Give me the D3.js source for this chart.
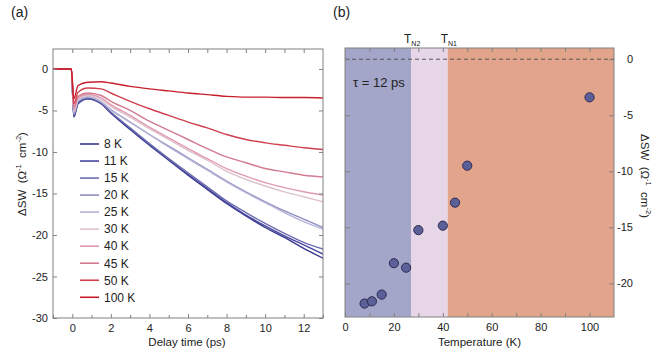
<!DOCTYPE html>
<html>
<head>
<meta charset="utf-8">
<script src="https://cdn.jsdelivr.net/npm/d3@7/dist/d3.min.js"></script>
<style>
  body { margin: 0; background: #fff; }
  svg { display: block; }
  text { font-family: "Liberation Sans", Arial, Helvetica, sans-serif; fill: #222; }
  .ylab { white-space: pre; }
</style>
</head>
<body>
<svg id="chart" width="661" height="352"></svg>
<script>
// ---------- DATA ----------
// Panel (a): delay times (ps) and ΔSW traces per temperature
const delayTimes = [-1, -0.05, 0.08, 0.3, 0.8, 1.5, 2, 3, 4, 5, 6, 7, 8, 9, 10, 11, 12, 13];
const seriesLabels = ["8 K", "11 K", "15 K", "20 K", "25 K", "30 K", "40 K", "45 K", "50 K", "100 K"];
const seriesColors = ["#38388c", "#4747a0", "#6c6cb0", "#8e8ec2", "#b5b3d5", "#dcc2cf", "#e09bae", "#d27a8f", "#d0404f", "#c81f2c"];
const trace8K   = [0, 0, -5.8, -4.2, -3.6, -4.2, -5.3, -7.3, -9.2, -11.0, -12.8, -14.5, -16.2, -17.7, -19.1, -20.3, -21.6, -22.8];
const trace11K  = [0, 0, -5.7, -4.1, -3.6, -4.2, -5.3, -7.2, -9.1, -10.9, -12.7, -14.4, -16.1, -17.6, -18.9, -20.1, -21.2, -22.3];
const trace15K  = [0, 0, -5.6, -4.0, -3.5, -4.1, -5.2, -7.1, -9.0, -10.8, -12.5, -14.2, -15.9, -17.3, -18.6, -19.8, -20.9, -21.7];
const trace20K  = [0, 0, -5.4, -3.9, -3.4, -4.0, -4.9, -6.4, -7.9, -9.3, -10.7, -12.1, -13.5, -14.8, -16.0, -17.1, -18.1, -19.1];
const trace25K  = [0, 0, -5.3, -3.8, -3.35, -3.95, -4.9, -6.4, -7.9, -9.4, -10.8, -12.2, -13.6, -14.9, -16.1, -17.3, -18.4, -19.3];
const trace30K  = [0, 0, -5.1, -3.7, -3.2, -3.7, -4.5, -5.8, -7.2, -8.5, -9.8, -11.0, -12.3, -13.3, -14.1, -14.8, -15.4, -16.0];
const trace40K  = [0, 0, -4.9, -3.5, -3.05, -3.5, -4.3, -5.6, -7.0, -8.3, -9.6, -10.8, -12.0, -12.9, -13.7, -14.3, -14.8, -15.2];
const trace45K  = [0, 0, -4.6, -3.3, -2.9, -3.2, -3.9, -5.0, -6.3, -7.4, -8.5, -9.6, -10.6, -11.3, -12.0, -12.4, -12.8, -13.0];
const trace50K  = [0, 0, -4.2, -2.8, -2.3, -2.4, -2.9, -3.9, -4.8, -5.6, -6.4, -7.1, -7.9, -8.5, -8.9, -9.2, -9.5, -9.7];
const trace100K = [0, 0, -3.6, -2.0, -1.6, -1.55, -1.7, -2.1, -2.4, -2.65, -2.9, -3.1, -3.3, -3.4, -3.4, -3.45, -3.45, -3.5];
const traces = [trace8K, trace11K, trace15K, trace20K, trace25K, trace30K, trace40K, trace45K, trace50K, trace100K];
const aYTicks = [-30, -25, -20, -15, -10, -5, 0];
const aXTicks = [0, 2, 4, 6, 8, 10, 12];

// Panel (b): ΔSW at τ = 12 ps vs temperature
const temperatures = [8, 11, 15, 20, 25, 30, 40, 45, 50, 100];
const dswAt12ps   = [-21.8, -21.6, -21.0, -18.2, -18.6, -15.25, -14.85, -12.8, -9.5, -3.4];
const TN2 = 27, TN1 = 42;
const bXTicks = [0, 20, 40, 60, 80, 100];
const bYTicks = [-20, -15, -10, -5, 0];

// ---------- DRAW ----------
const svg = d3.select("#chart");
const fmt = d => String(d);
const frameColor = "#808080";

function styleAxis(g) {
  g.select(".domain").remove();
  g.selectAll(".tick line").attr("stroke", frameColor);
  g.selectAll(".tick text").attr("font-size", 11).attr("fill", "#222");
}

function unitLabel(sel) {
  sel.append("tspan").text("ΔSW  (Ω");
  sel.append("tspan").attr("dy", -5).attr("font-size", 7.5).text("-1");
  sel.append("tspan").attr("dy", 5).text("  cm");
  sel.append("tspan").attr("dy", -5).attr("font-size", 7.5).text("-2");
  sel.append("tspan").attr("dy", 5).text(")");
}

// ===== Panel (a) =====
const ax = d3.scaleLinear().domain([-1, 13]).range([53, 323]);
const ay = d3.scaleLinear().domain([-30, 2.4]).range([318, 49]);

const ga = svg.append("g");
svg.append("clipPath").attr("id", "clipA").append("rect")
  .attr("x", ax.range()[0]).attr("y", ay.range()[1])
  .attr("width", ax.range()[1] - ax.range()[0]).attr("height", ay.range()[0] - ay.range()[1]);

const line = d3.line().x((d, i) => ax(delayTimes[i])).y(d => ay(d)).curve(d3.curveMonotoneX);
const traceG = ga.append("g").attr("clip-path", "url(#clipA)");
traces.forEach((tr, k) => {
  traceG.append("path").datum(tr).attr("d", line)
    .attr("fill", "none").attr("stroke", seriesColors[k]).attr("stroke-width", 1.4);
});
// axes
ga.append("g").attr("transform", `translate(${ax.range()[0]},0)`)
  .call(d3.axisLeft(ay).tickValues(aYTicks).tickFormat(fmt).tickSizeInner(-4).tickSizeOuter(0).tickPadding(5))
  .call(styleAxis);
ga.append("g").attr("transform", `translate(${ax.range()[1]},0)`)
  .call(d3.axisRight(ay).tickValues(aYTicks).tickFormat("").tickSizeInner(-4).tickSizeOuter(0))
  .call(styleAxis);
ga.append("g").attr("transform", `translate(0,${ay.range()[0]})`)
  .call(d3.axisBottom(ax).tickValues(aXTicks).tickFormat(fmt).tickSizeInner(-4).tickSizeOuter(0).tickPadding(6))
  .call(styleAxis);
ga.append("g").attr("transform", `translate(0,${ay.range()[0]})`)
  .call(d3.axisBottom(ax).tickValues(d3.range(-1, 14, 2)).tickFormat("").tickSizeInner(-3).tickSizeOuter(0))
  .call(styleAxis);
ga.append("g").attr("transform", `translate(0,${ay.range()[1]})`)
  .call(d3.axisTop(ax).tickValues(d3.range(0, 13, 1)).tickFormat("").tickSizeInner(-4).tickSizeOuter(0))
  .call(styleAxis);
ga.append("rect").attr("x", ax.range()[0]).attr("y", ay.range()[1])
  .attr("width", ax.range()[1] - ax.range()[0]).attr("height", ay.range()[0] - ay.range()[1])
  .attr("fill", "none").attr("stroke", frameColor).attr("stroke-width", 1);

// legend
const leg = ga.append("g");
seriesLabels.forEach((lab, k) => {
  const yy = 144 + k * 17.03;
  leg.append("line").attr("x1", 80).attr("x2", 99).attr("y1", yy).attr("y2", yy)
    .attr("stroke", seriesColors[k]).attr("stroke-width", 1.6);
  leg.append("text").attr("x", 104).attr("y", yy + 4.3).attr("font-size", 12).text(lab);
});

// titles
ga.append("text").attr("x", 187).attr("y", 346).attr("text-anchor", "middle")
  .attr("font-size", 11.5).text("Delay time (ps)");
ga.append("text").attr("class", "ylab").attr("transform", "translate(26,174) rotate(-90)")
  .attr("text-anchor", "middle").attr("font-size", 11.5).call(unitLabel);
svg.append("text").attr("x", 11).attr("y", 17).attr("font-size", 14).text("(a)");

// ===== Panel (b) =====
const bx = d3.scaleLinear().domain([0, 110]).range([345, 614]);
const by = d3.scaleLinear().domain([-23, 1]).range([317, 48]);
const gb = svg.append("g");
const bTop = by.range()[1], bBot = by.range()[0];
gb.append("rect").attr("x", bx(0)).attr("y", bTop).attr("width", bx(TN2) - bx(0)).attr("height", bBot - bTop).attr("fill", "#a3a5c9");
gb.append("rect").attr("x", bx(TN2)).attr("y", bTop).attr("width", bx(TN1) - bx(TN2)).attr("height", bBot - bTop).attr("fill", "#e6d6e7");
gb.append("rect").attr("x", bx(TN1)).attr("y", bTop).attr("width", bx(110) - bx(TN1)).attr("height", bBot - bTop).attr("fill", "#e2a48b");
gb.append("line").attr("x1", bx(0)).attr("x2", bx(110)).attr("y1", by(0)).attr("y2", by(0))
  .attr("stroke", "#555").attr("stroke-width", 1).attr("stroke-dasharray", "4,3");

gb.append("g").attr("transform", `translate(${bx.range()[1]},0)`)
  .call(d3.axisRight(by).tickValues(bYTicks).tickFormat(fmt).tickSizeInner(-5).tickSizeOuter(0).tickPadding(19))
  .call(styleAxis)
  .call(g => g.selectAll(".tick text").attr("text-anchor", "end"));
gb.append("g").attr("transform", `translate(${bx.range()[0]},0)`)
  .call(d3.axisLeft(by).tickValues(bYTicks).tickFormat("").tickSizeInner(-5).tickSizeOuter(0))
  .call(styleAxis);
gb.append("g").attr("transform", `translate(0,${bBot})`)
  .call(d3.axisBottom(bx).tickValues(bXTicks).tickFormat(fmt).tickSizeInner(-4).tickSizeOuter(0).tickPadding(6))
  .call(styleAxis);
gb.append("g").attr("transform", `translate(0,${bBot})`)
  .call(d3.axisBottom(bx).tickValues(d3.range(10, 110, 20)).tickFormat("").tickSizeInner(-4).tickSizeOuter(0))
  .call(styleAxis);
gb.append("g").attr("transform", `translate(0,${bTop})`)
  .call(d3.axisTop(bx).tickValues(d3.range(10, 110, 10)).tickFormat("").tickSizeInner(-4).tickSizeOuter(0))
  .call(styleAxis);
gb.append("rect").attr("x", bx.range()[0]).attr("y", bTop)
  .attr("width", bx.range()[1] - bx.range()[0]).attr("height", bBot - bTop)
  .attr("fill", "none").attr("stroke", frameColor).attr("stroke-width", 1);

gb.selectAll("circle.pt").data(temperatures).join("circle").attr("class", "pt")
  .attr("cx", d => bx(d)).attr("cy", (d, i) => by(dswAt12ps[i])).attr("r", 4.6)
  .attr("fill", "#5c6099").attr("stroke", "#2b2b4f").attr("stroke-width", 1);

gb.append("text").attr("x", 353).attr("y", 87).attr("font-size", 13).text("τ = 12 ps");
function tLabel(xv, sub) {
  const t = gb.append("text").attr("x", bx(xv) - 7).attr("y", 43).attr("font-size", 12);
  t.append("tspan").text("T");
  t.append("tspan").attr("dy", 3).attr("font-size", 7).text(sub);
}
tLabel(TN2, "N2");
tLabel(TN1, "N1");

gb.append("text").attr("x", bx(55)).attr("y", 346).attr("text-anchor", "middle")
  .attr("font-size", 11.5).text("Temperature (K)");
gb.append("text").attr("class", "ylab").attr("transform", "translate(641,176) rotate(90)")
  .attr("text-anchor", "middle").attr("font-size", 11.5).call(unitLabel);
svg.append("text").attr("x", 333).attr("y", 17).attr("font-size", 14).text("(b)");
</script>
</body>
</html>
